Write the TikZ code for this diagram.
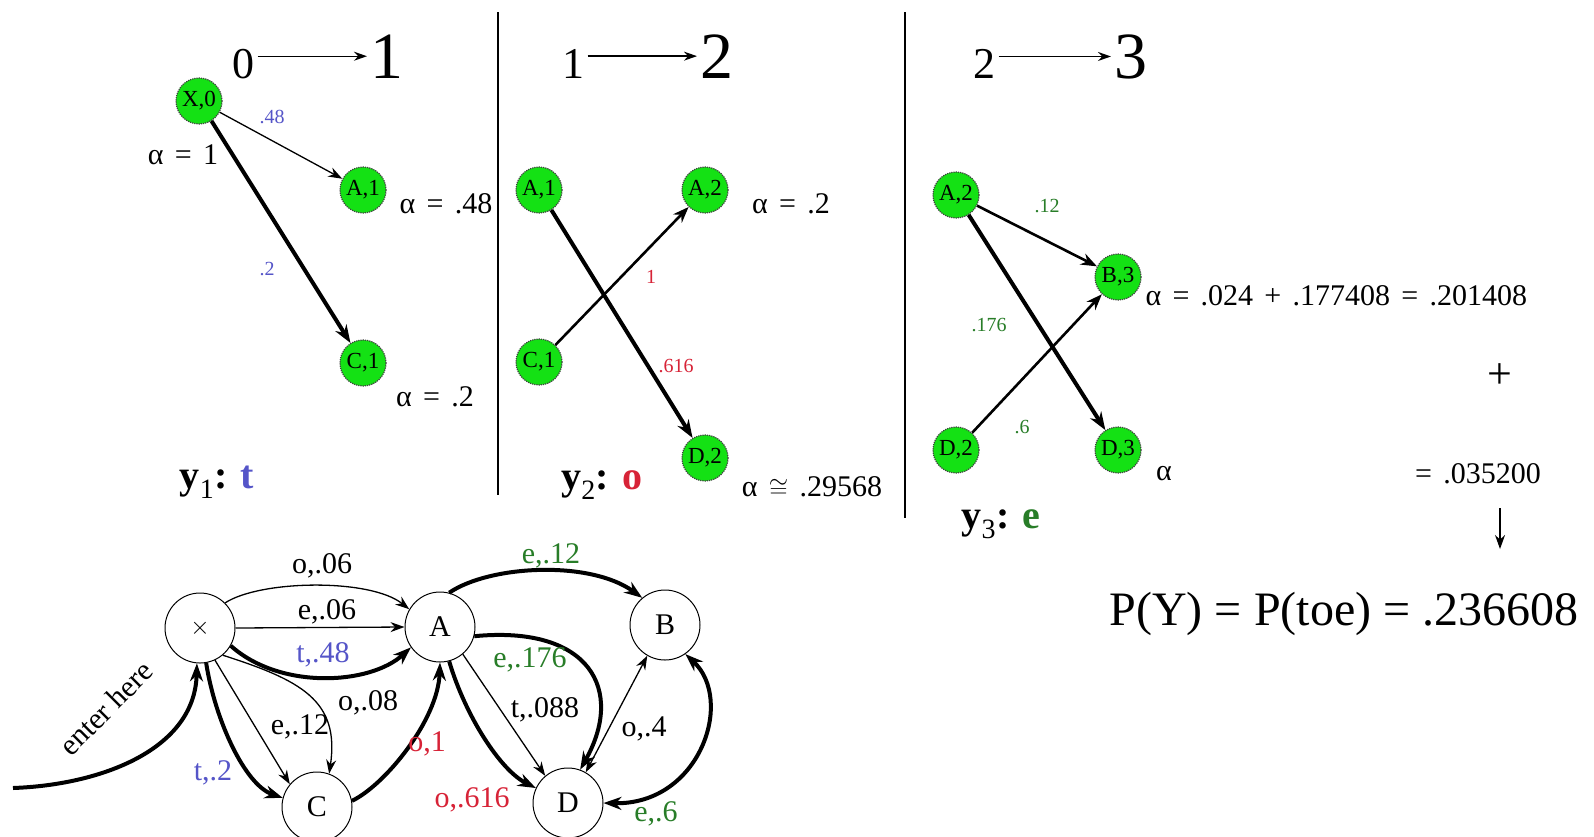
\documentclass[tikz,border=0pt]{standalone}
\usepackage{fontspec}
\setmainfont{Liberation Serif}
\newfontfamily\alphafont[WordSpace=1.5]{Liberation Serif}
\usepackage{amsmath,amssymb}
\usetikzlibrary{arrows.meta,calc}

\definecolor{tblue}{RGB}{85,85,200}
\definecolor{ored}{RGB}{215,35,55}
\definecolor{egreen}{RGB}{40,125,40}
\definecolor{nodegreen}{RGB}{20,225,20}
\newcommand{\fsz}[1]{\fontsize{#1}{#1}\selectfont}

\begin{document}
\begin{tikzpicture}[x=1pt,y=1pt,
  every node/.style={font=\fsz{26}},
  trellis/.style={circle,fill=nodegreen,draw=black!75,densely dotted,line width=1.2pt,
    minimum size=46pt,inner sep=0pt,font=\fsz{23}},
  hmmstate/.style={circle,draw,line width=1pt,minimum size=70pt,inner sep=0pt,font=\fsz{30}},
  alpha/.style={font=\alphafont\fsz{30}},
  wlbl/.style={font=\fsz{20}},
  elbl/.style={font=\fsz{30}},
  ylbl/.style={font=\fsz{40}},
  hdarr/.style={line width=1.4pt,-{Stealth[length=13pt,width=9pt]}},
  thinarr/.style={line width=1.3pt,-{Stealth[length=14pt,width=10pt]}},
  medarr/.style={line width=2.6pt,-{Stealth[length=16pt,width=12pt]}},
  thickarr/.style={line width=4pt,-{Stealth[length=18pt,width=13pt]}},
  thinboth/.style={line width=1.3pt,{Stealth[length=14pt,width=10pt]}-{Stealth[length=14pt,width=10pt]}},
  thickboth/.style={line width=4pt,{Stealth[length=18pt,width=13pt]}-{Stealth[length=18pt,width=13pt]}}]
  \useasboundingbox (0,0) rectangle (1594,-836);

  % trellis, step 0 -> 1
  \node[anchor=base,font=\fsz{44}] (h0) at (243,-78) {0};
  \node[anchor=base,font=\fsz{66}] (h1) at (387,-78) {1};
  \draw[hdarr] (h0.east |- h1.west) -- (h1.west);
  \node[trellis] (x0) at (199,-101) {X,0};
  \node[trellis] (a1) at (363,-190) {A,1};
  \node[trellis] (c1) at (363,-363) {C,1};
  \draw[thinarr] (x0) -- (a1);
  \draw[thickarr] (x0) -- (c1);
  \node[wlbl,text=tblue] (w1) at (272,-117) {.48};
  \node[wlbl,text=tblue] (w2) at (267,-269) {.2};
  \node[alpha] (al0) at (183,-155) {α = 1};
  \node[alpha] (al1) at (446,-204) {α = .48};
  \node[alpha] (al2) at (435,-397) {α = .2};
  \node[ylbl] (y1) at (217,-482) {\textbf{y}\textsubscript{1}\textbf{:} \textcolor{tblue}{\textbf{t}}};
  \draw[line width=2pt] (498,-12) -- (498,-495);

  % trellis, step 1 -> 2
  \node[anchor=base,font=\fsz{44}] (h2) at (573,-78) {1};
  \node[anchor=base,font=\fsz{66}] (h3) at (717,-78) {2};
  \draw[hdarr] (h2.east |- h3.west) -- (h3.west);
  \node[trellis] (a1b) at (539,-190) {A,1};
  \node[trellis] (c1b) at (539,-362) {C,1};
  \node[trellis] (a2) at (705,-190) {A,2};
  \node[trellis] (d2) at (705,-458) {D,2};
  \draw[thickarr] (a1b) -- (d2);
  \draw[medarr] (c1b) -- (a2);
  \node[wlbl,text=ored] (w3) at (651,-277) {1};
  \node[wlbl,text=ored] (w4) at (676,-366) {.616};
  \node[alpha] (al3) at (791,-204) {α = .2};
  \node[alpha] (al4) at (812,-487) {α \ensuremath{\cong} .29568};
  \node[ylbl] (y2) at (602,-485) {\textbf{y}\textsubscript{2}\textbf{:} \textcolor{ored}{\textbf{o}}};
  \draw[line width=2pt] (905,-12) -- (905,-518);

  % trellis, step 2 -> 3
  \node[anchor=base,font=\fsz{44}] (h4) at (984,-78) {2};
  \node[anchor=base,font=\fsz{66}] (h5) at (1131,-78) {3};
  \draw[hdarr] (h4.east |- h5.west) -- (h5.west);
  \node[trellis] (a2b) at (956,-195) {A,2};
  \node[trellis] (d2b) at (956,-450) {D,2};
  \node[trellis] (b3) at (1118,-277) {B,3};
  \node[trellis] (d3) at (1118,-450) {D,3};
  \draw[medarr] (a2b) -- (b3);
  \draw[thickarr] (a2b) -- (d3);
  \draw[medarr] (d2b) -- (b3);
  \node[wlbl,text=egreen] (w5) at (1047,-206) {.12};
  \node[wlbl,text=egreen] (w6) at (989,-325) {.176};
  \node[wlbl,text=egreen] (w7) at (1022,-427) {.6};
  \node[alpha,anchor=west] (al5) at (1142,-296) {α = .024 + .177408 = .201408};
  \node[font=\fsz{44}] (plus) at (1500,-376) {+};
  \node[alpha] (al6) at (1164,-474) {α};
  \node[alpha] (sumd) at (1478,-474) {= .035200};
  \node[ylbl] (y3) at (1001,-524) {\textbf{y}\textsubscript{3}\textbf{:} \textcolor{egreen}{\textbf{e}}};
  \coordinate (dn0) at (1500,-508);
  \coordinate (dn1) at (1500,-549);
  \draw[thinarr] (dn0) -- (dn1);
  \node[font=\fsz{48}] (py) at (1344,-614) {P(Y) = P(toe) = .236608};

  % the machine
  \node[hmmstate] (X) at (200,-628) {\fsz{42}$\times$};
  \node[hmmstate] (A) at (440,-627) {A};
  \node[hmmstate] (B) at (665,-625) {B};
  \node[hmmstate] (C) at (317,-807) {C};
  \node[hmmstate] (D) at (568,-803) {D};
  \coordinate (in) at (13,-788);

  \draw[thickarr] (in) .. controls (100,-785) and (195,-750) .. (X.-95);
  \node[elbl,rotate=45] (ent) at (106,-708) {enter here};

  \draw[thinarr] (X.45) .. controls (260,-580) and (370,-578) .. (A.150);
  \node[elbl] (l1) at (322,-566) {o,.06};
  \draw[thinarr] (X.east) -- (A.west);
  \node[elbl] (l2) at (327,-612) {e,.06};
  \draw[thickarr] (X.-30) .. controls (280,-690) and (370,-685) .. (A.-145);
  \node[elbl,text=tblue] (l3) at (323,-655) {t,.48};
  \draw[thinarr] (X.-50) .. controls (300,-680) and (340,-700) .. (C.70);
  \node[elbl] (l4) at (368,-703) {o,.08};
  \draw[thinarr] (X.-65) -- (C.140);
  \node[elbl] (l5) at (300,-727) {e,.12};
  \draw[thickarr] (X.-80) .. controls (215,-720) and (245,-785) .. (C.165);
  \node[elbl,text=tblue] (l6) at (213,-773) {t,.2};

  \draw[thickarr] (C.10) .. controls (385,-785) and (438,-720) .. (A.-90);
  \node[elbl,text=ored] (l7) at (427,-744) {o,1};

  \draw[thickarr] (A.75) .. controls (490,-565) and (590,-560) .. (B.130);
  \node[elbl,text=egreen] (l8) at (551,-556) {e,.12};
  \draw[thickarr] (A.-15) .. controls (590,-625) and (625,-690) .. (D.70);
  \node[elbl,text=egreen] (l9) at (530,-660) {e,.176};
  \draw[thinarr] (A.-50) -- (D.130);
  \node[elbl] (l10) at (545,-710) {t,.088};
  \draw[thickarr] (A.-75) .. controls (465,-715) and (500,-770) .. (D.155);
  \node[elbl,text=ored] (l11) at (472,-800) {o,.616};

  \draw[thinboth] (D.60) -- (B.-120);
  \node[elbl] (l12) at (644,-729) {o,.4};
  \draw[thickboth] (D.0) .. controls (700,-805) and (735,-700) .. (B.-55);
  \node[elbl,text=egreen] (l13) at (656,-814) {e,.6};
\end{tikzpicture}
\end{document}
